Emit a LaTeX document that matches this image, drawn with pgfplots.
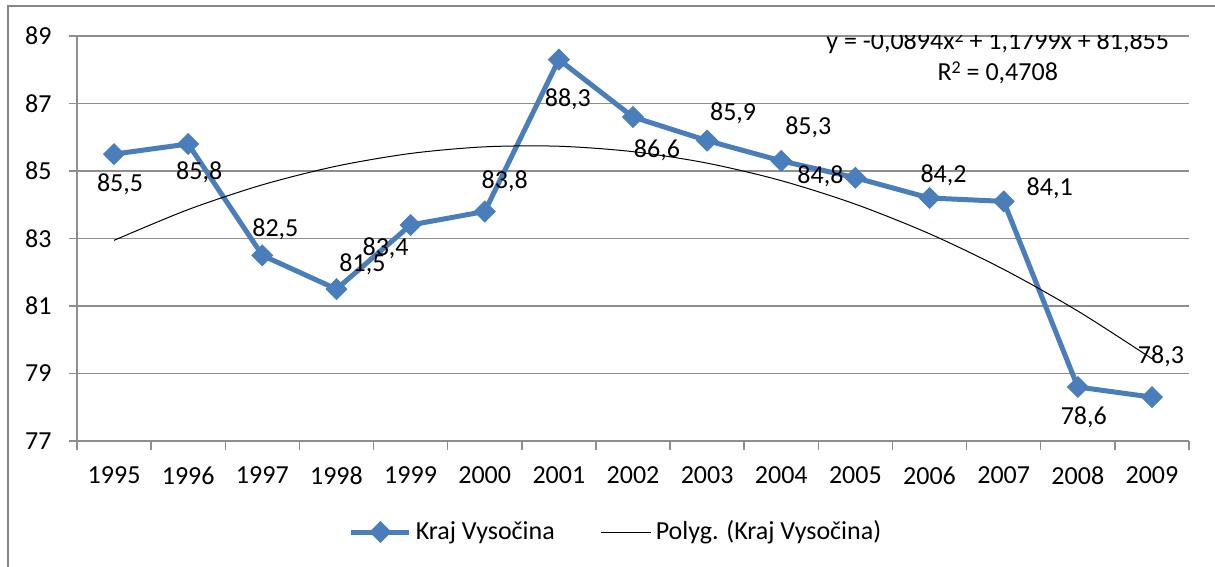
\documentclass[border=0pt]{standalone}
\usepackage{fontspec}
\setmainfont{Carlito}
\usepackage{pgfplots}
\pgfplotsset{compat=1.18}
\usepackage{pgfplotstable}
\definecolor{ser}{HTML}{4A7EBB}
\definecolor{gridc}{HTML}{8E8E8E}
\definecolor{framec}{HTML}{868686}

\pgfplotstableread{
x y lab dx dy
1 85.5 85,5 3 -15
2 85.8 85,8 5.5 -14
3 82.5 82,5 6.5 13
4 81.5 81,5 13 12.5
5 83.4 83,4 -12.5 -11.5
6 83.8 83,8 10 15
7 88.3 88,3 4.5 -20
8 86.6 86,6 12 -16.5
9 85.9 85,9 13 13.5
10 85.3 85,3 13.5 17
11 84.8 84,8 -17.5 0.5
12 84.2 84,2 7 11.5
13 84.1 84,1 23 6.5
14 78.6 78,6 3 -15
15 78.3 78,3 4.5 20.5
}\datatable

\begin{document}
\fontsize{13}{15}\selectfont
\begin{tikzpicture}
\useasboundingbox (-38.5pt,-63pt) rectangle (569pt,220.5pt);
\draw[framec, line width=1pt] (-34.5pt,-100pt) rectangle (650pt,217.5pt);
\begin{axis}[
  at={(0,0)}, anchor=south west,
  scale only axis, width=556pt, height=202.5pt,
  xmin=0.5, xmax=15.5, ymin=77, ymax=89,
  axis lines=left,
  axis line style={draw=gridc, line width=0.75pt, -},
  xtick={1,...,15},
  xticklabels={1995,1996,1997,1998,1999,2000,2001,2002,2003,2004,2005,2006,2007,2008,2009},
  major x tick style={draw=none},
  minor xtick={0.5,1.5,...,15.5},
  minor tick length=4.5pt,
  major tick length=4pt,
  tick align=outside,
  ytick={77,79,...,89},
  ytick style={draw=gridc, line width=0.75pt},
  minor x tick style={draw=gridc, line width=0.75pt},
  ymajorgrids,
  grid style={draw=gridc, line width=0.75pt},
  xticklabel style={yshift=-4.5pt},
  yticklabel style={xshift=-4.2pt},
  /pgf/number format/assume math mode=true,
  legend style={at={(0.4856,-0.2247)}, anchor=center, draw=none, fill=none,
    legend columns=2, /tikz/every even column/.append style={column sep=21pt}},
  legend cell align=left,
  legend image code/.code={\draw[mark repeat=2,mark phase=2] plot coordinates {(0pt,0pt) (14.5pt,0pt) (29pt,0pt)};},
]
\addplot[color=ser, line width=2.5pt, mark=square*, mark size=3.7pt,
  mark options={solid, rotate=45, fill=ser, line width=0.4pt},
  point meta=explicit symbolic,
  nodes near coords,
  visualization depends on={\thisrow{dx}\as\dx},
  visualization depends on={\thisrow{dy}\as\dy},
  every node near coord/.append style={anchor=center, xshift=\dx pt, yshift=\dy pt, text=black, inner sep=0pt},
] table[x=x, y=y, meta=lab] {\datatable};
\addlegendentry{Kraj Vysočina}
\addplot[black, line width=0.5pt, smooth, no marks,
  legend image code/.code={\draw (0pt,0pt) -- (25pt,0pt);}] coordinates {
(1,82.9455) (2,83.8572) (3,84.5901) (4,85.1442) (5,85.5195) (6,85.716) (7,85.7337)
(8,85.5726) (9,85.2327) (10,84.714) (11,84.0165) (12,83.1402) (13,82.0851)
(14,80.8512) (15,79.4385)};
\addlegendentry{Polyg. (Kraj Vysočina)}
\node at (axis cs:12.92,88.82) {y = -0,0894x\raisebox{0.55ex}{\fontsize{9}{9}\selectfont 2} + 1,1799x + 81,855};
\node at (axis cs:12.92,87.9) {R\raisebox{0.55ex}{\fontsize{9}{9}\selectfont 2} = 0,4708};
\end{axis}
\end{tikzpicture}
\end{document}
